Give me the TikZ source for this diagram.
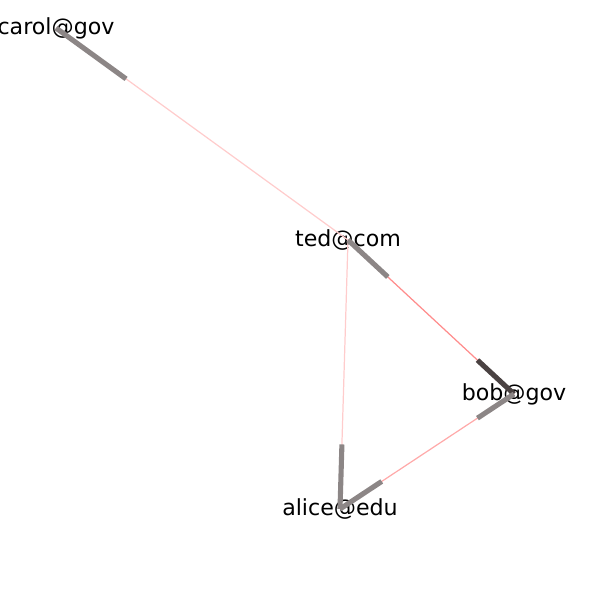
\documentclass[tikz,border=0pt]{standalone}
\usepackage{fontspec}
\setmainfont{DejaVu Sans}
\usetikzlibrary{calc}
\definecolor{linkfaint}{HTML}{FFCCCC}
\definecolor{linkmid}{HTML}{FFAAAA}
\definecolor{linkstrong}{HTML}{FF8C8C}
\definecolor{stubgray}{HTML}{8C8686}
\definecolor{stubdark}{HTML}{4A4242}
\tikzset{
    x=0.02cm, y=-0.02cm, % one unit is one pixel of the reference
    host/.style={inner sep=0pt, font=\fontsize{12.6}{14}\selectfont}, % the address labels
    link/.style={line width=0.7pt}, % thin edge between two hosts
    stub/.style={line width=2.9pt, stubgray}, % thick piece at an edge end
}

\begin{document}
\begin{tikzpicture}
  \useasboundingbox (0,0) rectangle (600,600);

  \node[host] (carol) at (56,28)  {carol@gov};
  \node[host] (ted)   at (348,240) {ted@com};
  \node[host] (bob)   at (514,394) {bob@gov};
  \node[host] (alice) at (340,509) {alice@edu};

  \path[link]
    (carol.center) edge [linkfaint]  (ted.center)
    (ted.center)   edge [linkstrong] (bob.center)
    (ted.center)   edge [linkfaint]  (alice.center)
    (bob.center)   edge [linkmid]    (alice.center);

  \draw[stub] (carol.center) -- ($(carol.center)!0.24!(ted.center)$);
  \draw[stub] (ted.center) -- ($(ted.center)!0.24!(bob.center)$);
  \draw[stub,stubdark] (bob.center) -- ($(bob.center)!0.22!(ted.center)$);
  \draw[stub] (alice.center) -- ($(alice.center)!0.24!(ted.center)$);
  \draw[stub] (bob.center) -- ($(bob.center)!0.21!(alice.center)$);
  \draw[stub] (alice.center) -- ($(alice.center)!0.24!(bob.center)$);
\end{tikzpicture}
\end{document}
